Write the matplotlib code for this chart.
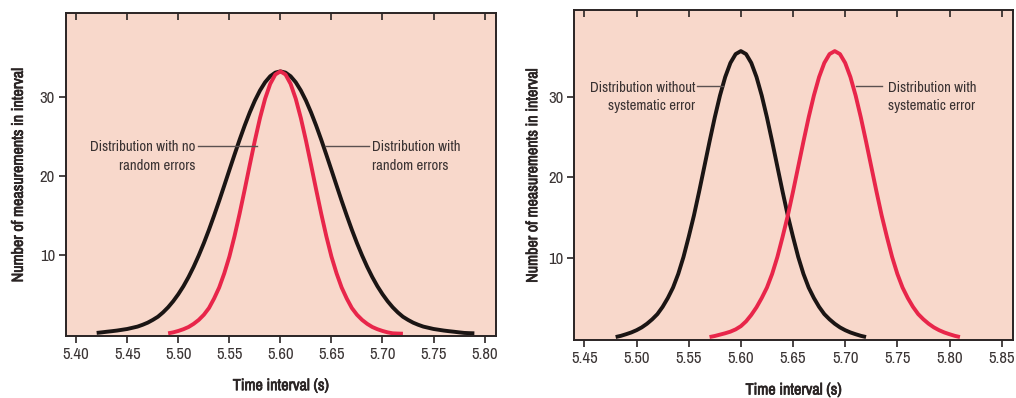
import matplotlib
matplotlib.use("Agg")
import matplotlib.pyplot as plt
import matplotlib.patheffects as pe

plt.rcParams['font.family'] = ['Archivo Narrow', 'Roboto Condensed', 'Liberation Sans', 'DejaVu Sans']

# ---- Data ----
# Left panel: distribution with random errors (black) and with no random errors (red)
left_black_x = [5.420, 5.425, 5.430, 5.435, 5.440, 5.445, 5.450, 5.455, 5.460, 5.465,
                5.470, 5.475, 5.480, 5.485, 5.490, 5.495, 5.500, 5.505, 5.510, 5.515,
                5.520, 5.525, 5.530, 5.535, 5.540, 5.545, 5.550, 5.555, 5.560, 5.565,
                5.570, 5.575, 5.580, 5.585, 5.590, 5.595, 5.600, 5.605, 5.610, 5.615,
                5.620, 5.625, 5.630, 5.635, 5.640, 5.645, 5.650, 5.655, 5.660, 5.665,
                5.670, 5.675, 5.680, 5.685, 5.690, 5.695, 5.700, 5.705, 5.710, 5.715,
                5.720, 5.725, 5.730, 5.735, 5.740, 5.745, 5.750, 5.755, 5.760, 5.765,
                5.770, 5.775, 5.780, 5.785, 5.790]
left_black_y = [0.15, 0.22, 0.30, 0.37, 0.45, 0.55, 0.65, 0.80, 0.95, 1.18,
                1.45, 1.80, 2.20, 2.75, 3.40, 4.17, 5.06, 6.07, 7.23, 8.53,
                9.97, 11.53, 13.22, 15.02, 16.89, 18.83, 20.79, 22.73, 24.63, 26.43,
                28.10, 29.60, 30.88, 31.92, 32.68, 33.14, 33.30, 33.14, 32.68, 31.92,
                30.88, 29.60, 28.10, 26.43, 24.63, 22.73, 20.79, 18.83, 16.89, 15.02,
                13.22, 11.53, 9.97, 8.53, 7.23, 6.07, 5.06, 4.17, 3.40, 2.75,
                2.20, 1.80, 1.45, 1.18, 0.95, 0.80, 0.65, 0.55, 0.45, 0.37,
                0.30, 0.22, 0.15, 0.12, 0.10]
left_red_x = [5.490, 5.495, 5.500, 5.505, 5.510, 5.515, 5.520, 5.525, 5.530, 5.535,
              5.540, 5.545, 5.550, 5.555, 5.560, 5.565, 5.570, 5.575, 5.580, 5.585,
              5.590, 5.595, 5.600, 5.605, 5.610, 5.615, 5.620, 5.625, 5.630, 5.635,
              5.640, 5.645, 5.650, 5.655, 5.660, 5.665, 5.670, 5.675, 5.680, 5.685,
              5.690, 5.695, 5.700, 5.705, 5.710, 5.715, 5.720]
left_red_y = [0.10, 0.22, 0.40, 0.62, 0.90, 1.30, 1.80, 2.45, 3.30, 4.50,
              5.90, 7.70, 9.82, 12.39, 15.25, 18.31, 21.46, 24.54, 27.39, 29.83,
              31.71, 32.90, 33.30, 32.90, 31.71, 29.83, 27.39, 24.54, 21.46, 18.31,
              15.25, 12.39, 9.82, 7.70, 5.90, 4.50, 3.30, 2.45, 1.80, 1.30,
              0.90, 0.62, 0.40, 0.22, 0.10, 0.07, 0.05]

# Right panel: distribution without (black) and with (red) systematic error
right_black_x = [5.480, 5.485, 5.490, 5.495, 5.500, 5.505, 5.510, 5.515, 5.520, 5.525,
                 5.530, 5.535, 5.540, 5.545, 5.550, 5.555, 5.560, 5.565, 5.570, 5.575,
                 5.580, 5.585, 5.590, 5.595, 5.600, 5.605, 5.610, 5.615, 5.620, 5.625,
                 5.630, 5.635, 5.640, 5.645, 5.650, 5.655, 5.660, 5.665, 5.670, 5.675,
                 5.680, 5.685, 5.690, 5.695, 5.700, 5.705, 5.710, 5.715, 5.720]
right_black_y = [0.15, 0.30, 0.50, 0.72, 1.00, 1.35, 1.80, 2.35, 3.00, 3.90,
                 5.00, 6.30, 8.00, 10.10, 12.60, 15.25, 18.23, 21.34, 24.46, 27.46,
                 30.18, 32.48, 34.23, 35.33, 35.70, 35.33, 34.23, 32.48, 30.18, 27.46,
                 24.46, 21.34, 18.23, 15.25, 12.60, 10.10, 8.00, 6.30, 5.00, 3.90,
                 3.00, 2.35, 1.80, 1.35, 1.00, 0.72, 0.50, 0.30, 0.15]
right_red_x = [5.570, 5.575, 5.580, 5.585, 5.590, 5.595, 5.600, 5.605, 5.610, 5.615,
               5.620, 5.625, 5.630, 5.635, 5.640, 5.645, 5.650, 5.655, 5.660, 5.665,
               5.670, 5.675, 5.680, 5.685, 5.690, 5.695, 5.700, 5.705, 5.710, 5.715,
               5.720, 5.725, 5.730, 5.735, 5.740, 5.745, 5.750, 5.755, 5.760, 5.765,
               5.770, 5.775, 5.780, 5.785, 5.790, 5.795, 5.800, 5.805, 5.810]
right_red_y = [0.15, 0.28, 0.45, 0.62, 0.82, 1.10, 1.50, 2.10, 2.90, 3.85,
               5.00, 6.30, 8.00, 10.10, 12.60, 15.25, 18.23, 21.34, 24.46, 27.46,
               30.18, 32.48, 34.23, 35.33, 35.70, 35.33, 34.23, 32.48, 30.18, 27.46,
               24.46, 21.34, 18.23, 15.25, 12.60, 10.10, 8.00, 6.30, 5.00, 3.90,
               3.00, 2.35, 1.80, 1.35, 1.00, 0.72, 0.50, 0.30, 0.15]

left_xticks = [5.40, 5.45, 5.50, 5.55, 5.60, 5.65, 5.70, 5.75, 5.80]
right_xticks = [5.45, 5.50, 5.55, 5.60, 5.65, 5.70, 5.75, 5.80, 5.85]
yticks = [10, 20, 30]

x_label = "Time interval (s)"
y_label = "Number of measurements in interval"

left_notes = ["Distribution with no\nrandom errors", "Distribution with\nrandom errors"]
right_notes = ["Distribution without\nsystematic error", "Distribution with\nsystematic error"]

# ---- Styles ----
BG = '#f8d8cb'
RED = '#e8264a'
BLACK = '#1b1514'
TXT = '#3a3232'
LEAD = '#5a5050'
SPINE = '#2a2424'

fig = plt.figure(figsize=(10.16, 3.98), dpi=100)
fig.patch.set_facecolor('white')

ax1 = fig.add_axes([0.065, 0.1558, 0.423, 0.8116])
ax2 = fig.add_axes([0.5653, 0.1457, 0.432, 0.829])

TICK_FS = 12


def style(ax, xticks, xlim, ylim):
    ax.set_facecolor(BG)
    ax.set_xlim(*xlim)
    ax.set_ylim(*ylim)
    ax.set_xticks(xticks)
    ax.set_xticklabels([f"{t:.2f}" for t in xticks])
    ax.set_yticks(yticks)
    for s in ax.spines.values():
        s.set_color(SPINE)
        s.set_linewidth(1.4)
    ax.tick_params(axis='x', bottom=True, top=False, direction='out', length=5, width=1.2,
                   color=SPINE, labelsize=TICK_FS, labelcolor='#3a3434', pad=3)
    ax.tick_params(axis='y', left=True, right=False, direction='out', length=5, width=1.2,
                   color=SPINE, labelsize=TICK_FS, labelcolor='#3a3434', pad=3)
    sec = ax.secondary_xaxis('top')
    sec.set_xticks(xticks)
    sec.tick_params(axis='x', direction='in', length=5, width=1.2, color=SPINE,
                    labeltop=False)
    sec.spines['top'].set_visible(False)


style(ax1, left_xticks, (5.390, 5.811), (-0.24, 40.7))
style(ax2, right_xticks, (5.4404, 5.8611), (-0.22, 40.8))

lw = 2.8
kw = dict(lw=lw, solid_capstyle='butt', solid_joinstyle='round')
ax1.plot(left_black_x, left_black_y, color=BLACK, **kw)
ax1.plot(left_red_x, left_red_y, color=RED, **kw)
ax2.plot(right_black_x, right_black_y, color=BLACK, **kw)
ax2.plot(right_red_x, right_red_y, color=RED, **kw)

fs_ann = 10.6
tkw = dict(fontsize=fs_ann, color=TXT, linespacing=1.38, va='center')
# Left annotations
ax1.plot([5.519, 5.5767], [23.8, 23.8], color=LEAD, lw=1.0)
ax1.text(5.517, 22.5, left_notes[0], ha='right', **tkw)
ax1.plot([5.6435, 5.687], [23.8, 23.8], color=LEAD, lw=1.0)
ax1.text(5.690, 22.5, left_notes[1], ha='left', **tkw)

# Right annotations
ax2.plot([5.558, 5.5826], [31.3, 31.3], color=LEAD, lw=1.0)
ax2.text(5.556, 30.0, right_notes[0], ha='right', **tkw)
ax2.plot([5.710, 5.735], [31.3, 31.3], color=LEAD, lw=1.0)
ax2.text(5.7406, 30.0, right_notes[1], ha='left', **tkw)

# Axis labels (bold look via a thin stroke)
bold = [pe.withStroke(linewidth=0.5, foreground=SPINE)]
lkw = dict(fontsize=11.6, fontweight='bold', color=SPINE, ha='center', va='center',
           path_effects=bold)
fig.text((66 + 496) / 2 / 1016, 1 - 385.7 / 398, x_label, **lkw)
fig.text(18.3 / 1016, 1 - 174.5 / 398, y_label, rotation=90, **lkw)
fig.text((574.3 + 1013.3) / 2 / 1016, 1 - 390.0 / 398, x_label, **lkw)
fig.text(532.7 / 1016, 1 - 175 / 398, y_label, rotation=90, **lkw)

fig.savefig("out.png", dpi=100, facecolor='white')
